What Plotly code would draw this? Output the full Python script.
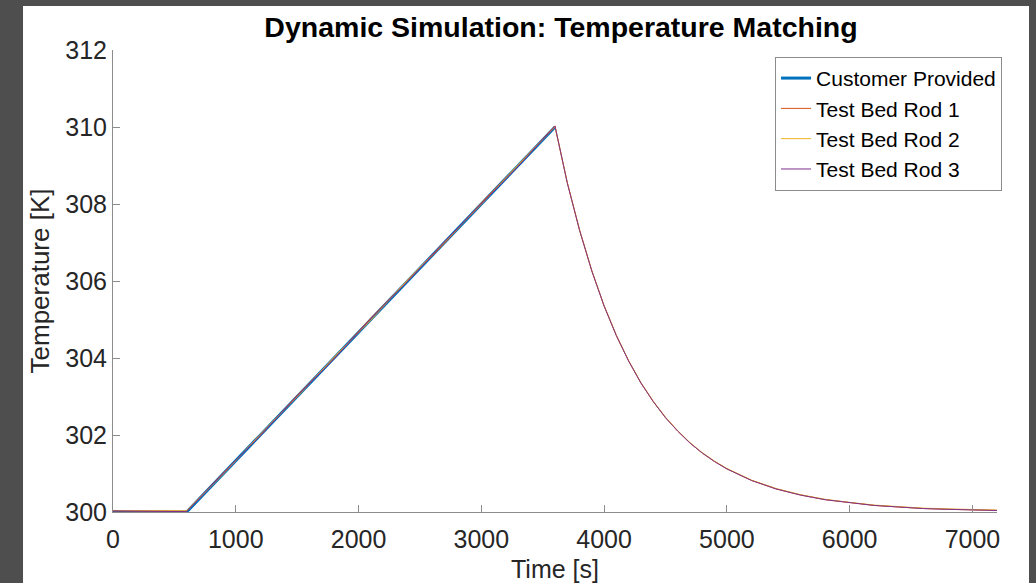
import plotly.graph_objects as go

# ---------------- data ----------------
customer_time = [0, 600, 3600]
customer_temp = [300.0, 300.0, 310.0]

rod_time = [0, 600, 900, 1200, 1500, 1800, 2100, 2400, 2700, 3000, 3300, 3600,
            3700, 3800, 3900, 4000, 4100, 4200, 4300, 4400, 4500, 4600, 4700, 4800, 4900, 5000,
            5200, 5400, 5600, 5800, 6000, 6200, 6400, 6600, 6800, 7000, 7200]

rod1_temp = [300.03, 300.02, 301.02, 301.99, 303.03, 303.99, 305.04, 306.01, 306.98, 308.03, 309.01, 310.03,
             308.55, 307.32, 306.26, 305.35, 304.58, 303.92, 303.35, 302.87, 302.45, 302.10, 301.79, 301.53, 301.31, 301.12,
             300.82, 300.60, 300.44, 300.32, 300.24, 300.17, 300.13, 300.09, 300.07, 300.05, 300.04]
rod2_temp = [300.04, 300.03, 300.99, 302.02, 302.99, 304.02, 304.98, 306.03, 307.01, 307.99, 309.02, 310.00,
             308.56, 307.33, 306.27, 305.36, 304.59, 303.93, 303.36, 302.88, 302.46, 302.11, 301.80, 301.54, 301.32, 301.13,
             300.83, 300.61, 300.45, 300.33, 300.25, 300.18, 300.14, 300.10, 300.08, 300.06, 300.05]
rod3_temp = [300.03, 300.01, 301.01, 301.99, 303.01, 303.98, 305.02, 305.99, 307.02, 308.01, 308.98, 310.02,
             308.55, 307.32, 306.26, 305.35, 304.58, 303.92, 303.35, 302.87, 302.45, 302.10, 301.79, 301.53, 301.31, 301.12,
             300.82, 300.60, 300.44, 300.32, 300.24, 300.17, 300.13, 300.09, 300.07, 300.05, 300.04]

series_names = ["Customer Provided", "Test Bed Rod 1", "Test Bed Rod 2", "Test Bed Rod 3"]
series_colors = ["#0072BD", "#D95319", "#EDB120", "#7E2F8E"]

x_ticks = [0, 1000, 2000, 3000, 4000, 5000, 6000, 7000]
y_ticks = [300, 302, 304, 306, 308, 310, 312]

FONT = "Liberation Sans, Arial, Helvetica, sans-serif"

fig = go.Figure()
fig.add_trace(go.Scatter(x=customer_time, y=customer_temp, mode="lines", name=series_names[0],
                         line=dict(color=series_colors[0], width=3)))
for name, col, temps in zip(series_names[1:], series_colors[1:], [rod1_temp, rod2_temp, rod3_temp]):
    fig.add_trace(go.Scatter(x=rod_time, y=temps, mode="lines", name=name,
                             line=dict(color=col, width=1)))

fig.update_layout(
    width=1036, height=583,
    margin=dict(l=113, r=39, t=50, b=71, autoexpand=False),
    paper_bgcolor="#4e4e4e",
    plot_bgcolor="white",
    showlegend=True,
    font=dict(family=FONT, color="#262626"),
    title=dict(text="<b>Dynamic Simulation: Temperature Matching</b>",
               x=0.5068, xanchor="center", xref="paper",
               y=1.0, yref="container", yanchor="top", pad=dict(t=17),
               font=dict(family=FONT, size=28.5, color="black")),
    legend=dict(x=1.0057, xanchor="right", y=0.985, yanchor="top",
                bgcolor="white", bordercolor="#8c8c8c", borderwidth=1,
                font=dict(family=FONT, size=21, color="black"),
                itemwidth=30, tracegroupgap=0),
    shapes=[dict(type="rect", xref="paper", yref="paper",
                 x0=-0.1018, x1=1.0362, y0=-0.1537, y1=1.0952,
                 fillcolor="white", line=dict(width=0), layer="below")],
)
fig.update_xaxes(range=[0, 7200], tickvals=x_ticks, ticks="inside", ticklen=7,
                 tickcolor="#8c8c8c", showline=True, linecolor="#8c8c8c", linewidth=1,
                 showgrid=False, zeroline=False, automargin=False, ticklabelstandoff=5,
                 tickfont=dict(size=25, color="#262626"),
                 title=dict(text="Time [s]", font=dict(size=25, color="#262626"), standoff=8))
fig.update_yaxes(range=[300, 312], tickvals=y_ticks, ticks="inside", ticklen=7,
                 tickcolor="#8c8c8c", showline=True, linecolor="#8c8c8c", linewidth=1,
                 showgrid=False, zeroline=False, automargin=False,
                 tickfont=dict(size=25, color="#262626"),
                 title=dict(text="Temperature [K]", font=dict(size=26, color="#262626"), standoff=8))

fig.write_html("out.html", config={"displayModeBar": False},
               post_script="document.body.style.margin='0';")
